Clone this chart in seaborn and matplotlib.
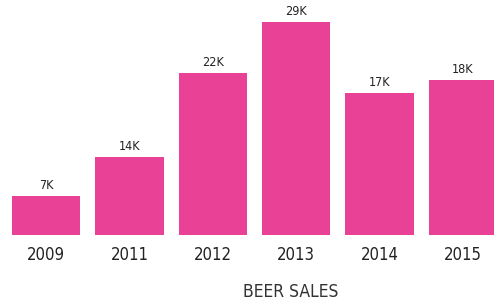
import matplotlib
matplotlib.use("Agg")
import matplotlib.pyplot as plt
import seaborn as sns
import pandas as pd

# values (thousands); labels as printed
years = ["2009", "2011", "2012", "2013", "2014", "2015"]
sales = [5.3, 10.6, 22.1, 29.0, 19.3, 21.1]
bar_labels = ["7K", "14K", "22K", "29K", "17K", "18K"]

PINK = "#E84196"
TEXT = "#222222"

sns.set_theme(style="white")
plt.rcParams["font.family"] = ["Liberation Sans Narrow", "DejaVu Sans"]
plt.rcParams["font.stretch"] = "condensed"

df = pd.DataFrame({"year": years, "sales": sales})

fig = plt.figure(figsize=(4.94, 3.01), dpi=100)
ax = fig.add_axes([0.0, 0.219, 1.0, 0.781])

sns.barplot(data=df, x="year", y="sales", color=PINK, saturation=1,
            width=0.82, linewidth=0, ax=ax)

ax.bar_label(ax.containers[0], labels=bar_labels, padding=3,
             fontsize=9, color=TEXT)

ax.set_xlim(-0.552, 5.371)
ax.set_ylim(0, 32.0)
ax.set_yticks([])
ax.set_ylabel("")
ax.tick_params(axis="x", length=0, pad=8, labelsize=12, labelcolor=TEXT)
ax.set_xlabel("BEER SALES", fontsize=12.5, color="#333333")
ax.xaxis.label.set_verticalalignment("center")
ax.xaxis.set_label_coords(0.589, -0.243)
sns.despine(ax=ax, left=True, bottom=True)

fig.savefig("out.png", dpi=100)
